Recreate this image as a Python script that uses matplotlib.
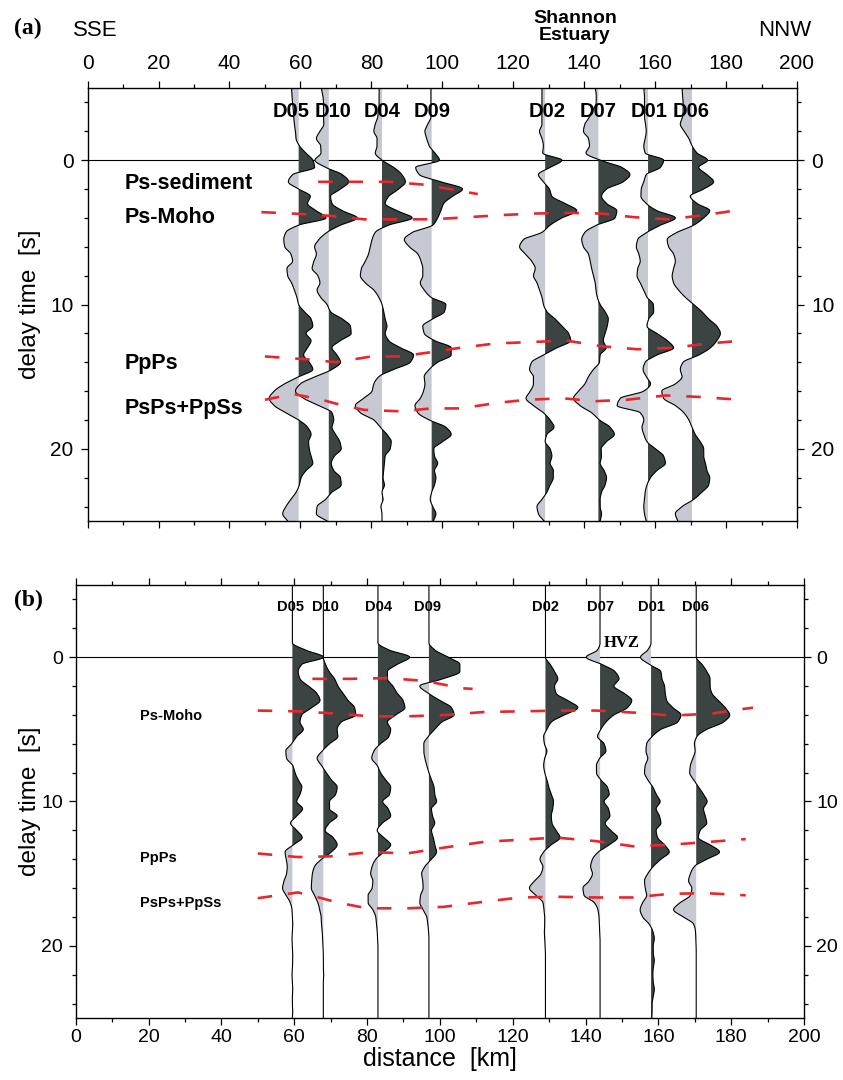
import numpy as np
import matplotlib
matplotlib.use("Agg")
import matplotlib.pyplot as plt

plt.rcParams['font.family'] = ['Liberation Sans', 'DejaVu Sans']

# ---------------- data ----------------
stations = ["D05", "D10", "D04", "D09", "D02", "D07", "D01", "D06"]
distance_km = [59.5, 68.0, 83.0, 97.0, 129.0, 144.0, 158.0, 170.4]

# trace sampling: delay time from -5 s to 25 s every 0.5 s (61 samples)
T_START, T_STEP = -5.0, 0.5

# panel (a) receiver-function amplitudes (in km of horizontal offset)
a_D05 = [-2.0, -1.9, -1.7, -1.5, -1.4, -1.2, -0.9, -0.75, 0.2, 2.0,
         4.0, 4.5, -1.7, -2.9, 0.0, 3.3, 2.5, 4.9, 7.7, 0.0,
         -3.6, -4.2, -3.9, -2.2, -1.7, -3.3, -3.1, -2.0, -1.2, -0.5,
         0.0, 1.6, 3.5, 4.0, 2.1, 3.5, 2.5, 1.4, 3.0, 4.0,
         0.0, -4.0, -6.9, -8.3, -6.9, -3.6, 0.0, 2.5, 3.5, 2.8,
         3.0, 3.5, 4.0, 2.1, 0.7, 0.2, -0.7, -2.2, -3.6, -4.5,
         -3.1]
a_D10 = [-2.1, -1.7, -1.5, -1.5, -1.5, -1.4, -2.5, -3.5, -2.3, -2.2,
         -3.9, -0.9, 3.8, 5.6, 3.3, 0.5, 0.9, 3.8, 8.0, 3.3,
         -0.5, -2.8, -4.0, -3.5, -4.2, -4.7, -3.1, -2.5, -3.3, -2.3,
         -0.5, 0.5, 3.8, 6.1, 6.3, 3.3, 0.9, 2.3, 3.3, 0.9,
         -3.8, -8.0, -9.4, -7.1, -2.8, 0.9, 1.4, 0.9, 1.9, 3.1,
         3.5, 1.6, 0.7, 1.4, 3.3, 3.5, 0.9, -0.9, -3.3, -3.5,
         -0.5]
a_D04 = [-0.8, -0.8, -0.8, -1.0, -1.2, -1.9, -2.3, -1.4, -1.4, -1.9,
         0.0, 3.3, 5.6, 6.6, 4.7, 1.9, 0.9, 4.2, 8.5, 1.9,
         -1.9, -2.8, -3.3, -3.8, -4.7, -5.8, -6.1, -4.7, -2.3, -0.9,
         0.0, 0.5, 0.9, 1.4, 0.9, 1.9, 5.2, 8.9, 8.0, 3.3,
         -0.9, -2.3, -2.8, -5.2, -7.5, -6.1, -2.3, -0.5, 1.4, 2.6,
         2.3, 0.9, 0.7, 0.5, 0.3, 0.7, 0.0, 0.3, -0.3, 0.0,
         0.0]
a_D09 = [-0.2, -0.2, -0.2, -0.2, -0.2, -1.1, -1.9, -1.4, -0.7, 0.9,
         2.2, -4.5, -3.5, 2.6, 8.7, 5.9, 3.4, 2.6, 1.7, 0.3,
         -5.4, -7.7, -6.3, -3.9, -3.0, -2.5, -2.5, -3.2, -2.1, -0.2,
         4.0, 3.6, 0.3, -2.5, -2.1, 0.8, 5.5, 5.5, 1.7, -0.7,
         -2.1, -1.9, -2.3, -3.2, -4.7, -3.9, -0.7, 4.0, 5.5, 3.1,
         0.6, 0.8, 1.7, 0.8, 1.2, 0.8, 0.0, -0.4, 0.3, 1.2,
         0.5]
a_D02 = [-0.9, -0.9, -0.9, -0.9, -0.9, -0.9, -1.6, -0.9, -0.5, -0.7,
         4.7, 1.4, -1.9, -0.5, 1.2, 1.9, 5.6, 8.9, 4.7, 1.4,
         -0.9, -6.1, -7.2, -5.6, -3.8, -2.8, -3.3, -2.3, -1.6, -0.9,
         -0.5, 0.5, 2.8, 4.7, 6.6, 7.2, 3.3, -0.5, -3.8, -4.4,
         -3.3, -3.3, -4.2, -5.4, -3.3, -0.5, 1.4, 2.5, 0.5, 0.0,
         1.4, 1.9, 1.4, 2.3, 2.3, 1.4, 0.5, -0.9, -2.3, -1.9,
         -0.3]
a_D07 = [-0.9, -0.6, -0.6, -1.5, -2.5, -3.8, -4.2, -2.8, -2.5, -3.5,
         0.5, 6.6, 8.9, 7.0, 2.3, 0.9, 2.3, 5.2, 4.7, -0.5,
         -3.8, -4.7, -4.2, -2.8, -2.3, -1.9, -1.4, -0.9, -0.7, -0.3,
         0.5, 1.9, 2.8, 2.5, 1.9, 1.4, 2.2, 0.5, 0.3, -1.4,
         -2.8, -3.8, -5.6, -7.0, -5.2, -1.9, 0.3, 3.3, 4.5, 2.3,
         0.8, 0.9, 0.5, 1.6, 2.3, 1.9, 0.9, 0.5, 0.5, 0.9,
         0.5]
a_D01 = [-1.2, -1.0, -1.0, -1.0, -1.0, -0.7, -0.5, -0.8, -1.2, -0.8,
         4.4, 3.5, -0.5, -1.2, -1.9, -2.0, -0.5, 2.5, 7.7, 3.5,
         -0.3, -2.9, -3.3, -2.6, -2.2, -2.9, -3.1, -2.2, -1.2, -0.3,
         1.5, 1.6, 0.2, -0.3, 2.5, 5.4, 7.2, 2.5, -0.8, -1.4,
         -0.5, 0.7, -1.2, -7.8, -8.7, -2.2, -1.2, -1.7, -1.2, -0.3,
         2.1, 4.4, 4.9, 2.5, 0.7, -0.3, -0.8, -1.0, -1.2, -1.0,
         -0.5]
a_D06 = [-2.8, -2.7, -2.5, -2.5, -2.7, -3.3, -2.2, -0.9, 0.0, 1.4,
         4.4, 1.9, 4.2, 6.1, 3.3, -0.5, 1.4, 5.0, 3.3, 0.5,
         -4.2, -7.0, -6.6, -5.2, -4.7, -5.2, -5.6, -5.2, -3.8, -1.9,
         0.5, 2.8, 4.7, 7.0, 8.0, 7.0, 5.2, 1.9, -2.5, -3.3,
         -2.8, -4.7, -8.5, -8.0, -4.7, -2.3, -0.9, 0.0, 0.9, 2.3,
         3.3, 3.3, 3.8, 4.2, 5.0, 4.7, 2.8, 0.5, -2.8, -4.7,
         -4.0]

# panel (b) amplitudes
b_D05 = [0, 0, 0, 0, 0, 0, 0, 0, 0, 3.5,
         8.5, 2.6, 1.6, 2.1, 4.4, 6.7, 7.6, 5.3, 2.6, 2.1,
         3.0, 1.2, -0.2, -1.8, -1.6, 0.1, 0.7, 1.6, 2.6, 2.1,
         1.2, 2.8, 1.2, -0.5, 1.2, 2.7, 0.3, -2.0, -1.7, -1.4,
         -1.6, -2.3, -2.7, -1.7, -0.6, -0.1, 0.0, 0.1, 0.0, -0.1,
         0.0, 0.1, 0.1, 0.0, -0.1, 0.0, 0.1, 0.0, 0.0, 0.1,
         0.0]
b_D10 = [0, 0, 0, 0, 0, 0, 0, 0, 0, 0,
         0.0, 0.6, 1.6, 3.1, 4.0, 5.4, 6.8, 8.6, 8.9, 4.9,
         3.8, 4.0, 1.7, -0.3, -1.7, -0.5, 0.8, 2.2, 3.8, 3.4,
         1.7, 1.7, 3.8, 1.6, 0.5, 2.7, 3.8, 2.2, -0.5, -2.4,
         -3.0, -3.2, -3.3, -2.4, -1.5, -1.0, -0.6, -0.5, -0.3, -0.2,
         -0.1, 0, 0, 0, 0.1, 0, 0, 0, 0, 0,
         0]
b_D04 = [0, 0, 0, 0, 0, 0, 0, 0, 0, 3.0,
         8.7, 5.3, 2.6, 2.6, 4.1, 5.3, 6.9, 7.4, 4.9, 2.6,
         3.5, 3.0, 0.7, -1.1, -1.7, -0.2, 0.7, 2.1, 3.5, 3.2,
         1.3, 2.8, 3.5, 1.2, -0.2, 1.6, 3.5, 1.6, -0.6, -1.6,
         -2.0, -1.4, -1.6, -2.7, -2.7, -1.4, -0.6, -0.4, -0.2, -0.1,
         0, 0, 0, 0, 0, 0, 0, 0, 0, 0,
         0]
b_D09 = [0, 0, 0, 0, 0, 0, 0, 0, 0, 1.6,
         5.3, 8.5, 8.5, 3.9, -2.5, -0.2, 3.0, 6.2, 6.9, 3.5,
         1.6, -0.2, -1.4, -1.4, -1.1, -0.6, 0.0, 0.7, 1.4, 1.6,
         2.1, 0.7, 1.0, 1.6, 0.7, 1.2, 1.6, 2.1, 0.7, -1.1,
         -2.0, -1.7, -1.6, -2.3, -2.5, -1.6, -0.6, -0.3, -0.1, 0.0,
         0, 0, 0, 0, 0, 0, 0, 0, 0, 0,
         0]
b_D02 = [0, 0, 0, 0, 0, 0, 0, 0, 0, 0,
         0.0, 1.3, 2.5, 3.4, 2.5, 2.9, 6.1, 8.9, 5.2, 1.6,
         0.4, -0.5, -0.3, 0.4, -0.2, -0.5, -0.2, 0.4, 0.9, 1.6,
         2.2, 2.0, 1.6, 1.8, 2.9, 4.0, 1.6, -0.5, -1.5, -0.7,
         -1.2, -3.0, -4.4, -2.6, -0.7, -0.4, -0.2, -0.2, -0.3, -0.2,
         -0.1, 0, 0, 0, 0, 0, 0, 0, 0, 0,
         0]
b_D07 = [0, 0, 0, 0, 0, 0, 0, 0, 0, -0.7,
         -3.8, 0.5, 4.1, 5.2, 3.8, 6.6, 8.7, 7.5, 3.8, 1.6,
         0.2, -0.7, 1.1, 1.6, -0.1, -1.0, -1.0, 0.2, 2.0, 2.5,
         1.1, 2.3, 2.7, 1.4, 2.9, 4.8, 2.5, -0.5, -2.1, -2.6,
         -2.1, -3.0, -4.7, -4.4, -1.6, -0.6, -0.3, -0.2, -0.1, 0.0,
         0, 0, 0, 0, 0, 0, 0, 0, 0, 0,
         0]
b_D01 = [0, 0, 0, 0, 0, 0, 0, 0, 0, -0.9,
         -2.9, -0.5, 2.7, 3.0, 3.7, 3.9, 4.3, 6.0, 8.2, 7.3,
         2.7, 0.3, -1.2, -1.4, -0.9, -1.6, -1.8, -0.9, 0.5, 1.4,
         2.5, 1.4, 2.3, 2.7, 1.4, 1.8, 3.7, 5.0, 2.7, 0.6,
         -0.9, -1.8, -1.6, -1.2, -2.3, -3.0, -2.3, -0.5, 0.5, 0.9,
         0.6, 0.6, 0.9, 0.6, 0.5, 0.6, 0.9, 0.6, 0.3, 0.3,
         0.2]
b_D06 = [0, 0, 0, 0, 0, 0, 0, 0, 0, 0,
         0.0, 1.6, 2.9, 3.8, 3.8, 4.3, 6.1, 8.0, 9.2, 7.5,
         2.9, 0.2, -0.5, -0.3, -0.9, -1.6, -1.8, -0.7, 0.6, 2.0,
         3.0, 2.0, 2.5, 2.9, 1.1, 0.6, 3.8, 6.4, 2.9, -0.5,
         -1.6, -2.1, -1.2, -1.6, -4.4, -6.2, -3.5, -0.7, -0.2, -0.1,
         0, 0, 0, 0, 0, 0, 0, 0, 0, 0,
         0]

# picked phases (distance km, delay s)
a_sed_x = [65, 75, 85, 95, 102, 110]
a_sed_t = [1.5, 1.5, 1.5, 1.7, 2.0, 2.35]
a_moho_x = [49, 58, 68, 78, 88, 97, 104, 117, 126, 135, 145, 154, 164, 174, 185]
a_moho_t = [3.6, 3.7, 3.85, 4.1, 4.1, 4.1, 4.0, 3.8, 3.7, 3.65, 3.7, 3.95, 4.1, 3.8, 3.4]
a_ppps_x = [50, 62, 70, 80, 88, 97, 105, 115, 125, 135, 145, 155, 165, 175, 185]
a_ppps_t = [13.6, 13.8, 14.0, 13.6, 13.6, 13.3, 13.0, 12.7, 12.6, 12.5, 12.9, 13.1, 13.0, 12.7, 12.5]
a_psps_x = [50, 58, 66, 72, 78, 88, 97, 105, 116, 124, 134, 143, 152, 163, 172, 184]
a_psps_t = [16.6, 16.2, 16.6, 17.0, 17.3, 17.4, 17.2, 17.2, 16.8, 16.6, 16.5, 16.7, 16.6, 16.3, 16.4, 16.6]

b_sed_x = [65, 75, 86, 96, 106, 109]
b_sed_t = [1.5, 1.5, 1.45, 1.65, 2.15, 2.2]
b_moho_x = [50, 61, 71, 81, 91, 102, 112, 123, 133, 143, 154, 164, 175, 183, 186]
b_moho_t = [3.7, 3.75, 3.9, 4.1, 4.1, 4.0, 3.8, 3.75, 3.7, 3.7, 3.85, 4.05, 3.9, 3.6, 3.5]
b_ppps_x = [50, 61, 70, 81, 91, 101, 112, 122, 132, 143, 153, 163, 174, 184]
b_ppps_t = [13.6, 13.85, 13.8, 13.5, 13.6, 13.2, 12.8, 12.65, 12.5, 12.75, 13.1, 13.0, 12.8, 12.6]
b_psps_x = [50, 61, 66, 72, 80, 91, 101, 112, 122, 132, 143, 153, 163, 173, 184]
b_psps_t = [16.7, 16.3, 16.6, 17.0, 17.4, 17.4, 17.3, 16.95, 16.65, 16.6, 16.65, 16.65, 16.4, 16.35, 16.5]

x_ticks = [0, 20, 40, 60, 80, 100, 120, 140, 160, 180, 200]
y_ticks = [0, 10, 20]

# ---------------- style / layout ----------------
DARK = "#3b4343"
LIGHT = "#c6c9d1"
RED = "#e8262b"
# station-label anchor positions (km), nudged apart so they do not collide
label_x_a = [57.3, 69.2, 83.0, 97.1, 129.5, 143.9, 158.3, 170.1]
label_x_b = [59.1, 68.6, 83.3, 96.7, 129.1, 144.2, 158.0, 170.3]


def pchip(x, y, xf):
    x = np.asarray(x, float)
    y = np.asarray(y, float)
    h = np.diff(x)
    d = np.diff(y) / h
    m = np.zeros_like(y)
    for k in range(1, len(y) - 1):
        if d[k - 1] * d[k] > 0:
            w1 = 2 * h[k] + h[k - 1]
            w2 = h[k] + 2 * h[k - 1]
            m[k] = (w1 + w2) / (w1 / d[k - 1] + w2 / d[k])
    m[0] = d[0]
    m[-1] = d[-1]
    idx = np.clip(np.searchsorted(x, xf) - 1, 0, len(x) - 2)
    hh = h[idx]
    s = (xf - x[idx]) / hh
    h00 = 2 * s**3 - 3 * s**2 + 1
    h10 = s**3 - 2 * s**2 + s
    h01 = -2 * s**3 + 3 * s**2
    h11 = s**3 - s**2
    return h00 * y[idx] + h10 * hh * m[idx] + h01 * y[idx + 1] + h11 * hh * m[idx + 1]


def draw_trace(ax, x0, amp):
    tg = T_START + T_STEP * np.arange(len(amp))
    tf = np.linspace(tg[0], tg[-1], 1501)
    a = pchip(tg, amp, tf)
    ax.fill_betweenx(tf, x0, x0 + a, where=a >= 0, interpolate=True,
                     color=DARK, lw=0, zorder=2)
    ax.fill_betweenx(tf, x0, x0 + a, where=a <= 0, interpolate=True,
                     color=LIGHT, lw=0, zorder=2)
    ax.plot(x0 + a, tf, color="black", lw=0.8, zorder=3)


def red_dash(ax, xs, ts):
    ln, = ax.plot(xs, ts, color=RED, lw=1.9, zorder=4, solid_capstyle="butt")
    ln.set_dashes([5.5, 6])


fig = plt.figure(figsize=(8.43, 10.8), dpi=100)
ax_a = fig.add_axes([87.6 / 843, 1 - 521 / 1080, (797 - 87.6) / 843, 433 / 1080])
ax_b = fig.add_axes([75.7 / 843, 1 - 1018 / 1080, (804 - 75.7) / 843, 433 / 1080])

traces_a = [a_D05, a_D10, a_D04, a_D09, a_D02, a_D07, a_D01, a_D06]
traces_b = [b_D05, b_D10, b_D04, b_D09, b_D02, b_D07, b_D01, b_D06]

for ax, traces in ((ax_a, traces_a), (ax_b, traces_b)):
    ax.set_xlim(0, 200)
    ax.set_ylim(25, -5)
    ax.axhline(0, color="black", lw=0.8, zorder=1)
    for x0, amp in zip(distance_km, traces):
        draw_trace(ax, x0, amp)
    ax.set_xticks(x_ticks)
    ax.set_xticks(np.arange(10, 200, 20), minor=True)
    ax.set_yticks(y_ticks)
    ax.set_yticks([-4, -2, 2, 4, 6, 8, 12, 14, 16, 18, 22, 24], minor=True)
    ax.tick_params(which="both", direction="out", top=True, bottom=True,
                   left=True, right=True, labelright=True, width=0.9)
    ax.tick_params(which="major", length=5)
    ax.tick_params(which="minor", length=3)
    for sp in ax.spines.values():
        sp.set_linewidth(1.0)

# phase picks
red_dash(ax_a, a_sed_x, a_sed_t)
red_dash(ax_a, a_moho_x, a_moho_t)
red_dash(ax_a, a_ppps_x, a_ppps_t)
red_dash(ax_a, a_psps_x, a_psps_t)
red_dash(ax_b, b_sed_x, b_sed_t)
red_dash(ax_b, b_moho_x, b_moho_t)
red_dash(ax_b, b_ppps_x, b_ppps_t)
red_dash(ax_b, b_psps_x, b_psps_t)

# panel (a) axes labels
ax_a.tick_params(axis="x", labeltop=True, labelbottom=False, labelsize=15, pad=6)
ax_a.tick_params(axis="y", labelsize=15, pad=5)
ax_a.set_ylabel("delay time  [s]", fontsize=17.5)
ax_a.yaxis.set_label_coords(-0.066, 0.5)

# panel (b) axes labels
ax_b.tick_params(axis="x", labeltop=False, labelbottom=True, labelsize=14, pad=3)
ax_b.tick_params(axis="y", labelsize=14, pad=4)
ax_b.tick_params(axis="y", which="major", labelright=True)
for lab in ax_b.get_yticklabels(which="major"):
    pass
ax_b.yaxis.set_tick_params(pad=4)
ax_b.set_ylabel("delay time  [s]", fontsize=17.5)
ax_b.yaxis.set_label_coords(-0.048, 0.5)
ax_b.set_xlabel("distance  [km]", fontsize=18)
ax_b.xaxis.set_label_coords(0.5, -0.066)

# station labels
for name, x in zip(stations, label_x_a):
    ax_a.text(x, -3.4, name, fontsize=14.5, fontweight="bold", ha="center",
              va="center", zorder=5)
for name, x in zip(stations, label_x_b):
    ax_b.text(x, -3.5, name, fontsize=10.5, fontweight="bold", ha="center",
              va="center", zorder=5)

# phase labels
for txt, t in (("Ps-sediment", 1.65), ("Ps-Moho", 4.0), ("PpPs", 14.1), ("PsPs+PpSs", 17.2)):
    ax_a.text(10.5, t, txt, fontsize=15.5, fontweight="bold", ha="left", va="center", zorder=5)
for txt, t in (("Ps-Moho", 4.1), ("PpPs", 13.9), ("PsPs+PpSs", 17.0)):
    ax_b.text(17.6, t, txt, fontsize=10.5, fontweight="bold", ha="left", va="center", zorder=5)
ax_b.text(150, -1.0, "HVZ", fontsize=12, fontweight="bold", ha="center", va="center",
          family=["Liberation Serif", "DejaVu Serif"], zorder=5)

# figure annotations
fig.text(28 / 843, 1 - 28 / 1080, "(a)", fontsize=17, fontweight="bold", ha="center",
         va="center", family=["Liberation Serif", "DejaVu Serif"])
fig.text(28 / 843, 1 - 600 / 1080, "(b)", fontsize=17, fontweight="bold", ha="center",
         va="center", family=["Liberation Serif", "DejaVu Serif"])
fig.text(95 / 843, 1 - 30 / 1080, "SSE", fontsize=16, ha="center", va="center")
fig.text(785 / 843, 1 - 30 / 1080, "NNW", fontsize=16, ha="center", va="center")
fig.text(575 / 843, 1 - 27 / 1080, "Shannon\nEstuary", fontsize=14, fontweight="bold",
         ha="center", va="center", linespacing=1.0)

fig.savefig("out.png", dpi=100)
